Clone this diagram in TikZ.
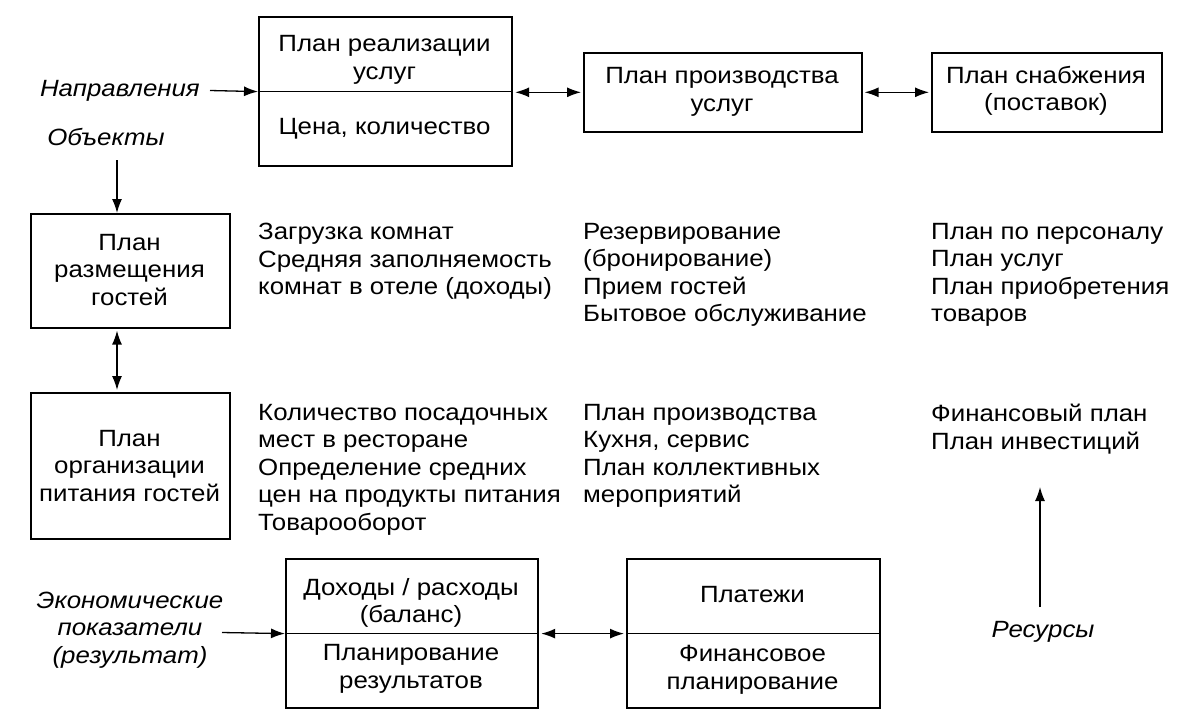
\documentclass[tikz,border=0pt]{standalone}
\usepackage{fontspec}
\setmainfont{Liberation Sans}[FakeStretch=1.1]
\usetikzlibrary{arrows.meta,calc}
\newcommand\fsz{\fontsize{23.5}{27.5}\selectfont}
\begin{document}
\begin{tikzpicture}[x=1pt,y=-1pt,
  thickbox/.style={draw, line width=2.2pt, anchor=north west, inner sep=0pt},
  thinbox/.style={draw, line width=1.6pt, anchor=north west, inner sep=0pt},
  divider/.style={line width=1.7pt},
  intext/.style={align=center, inner sep=0pt, font=\fsz},
  coltext/.style={align=left, anchor=north west, inner sep=0pt, font=\fsz},
  lbl/.style={align=center, inner sep=0pt, font=\fsz\itshape},
  arr/.style={-{Latex[length=14pt,width=10pt]}, line width=1.3pt},
  arrtwo/.style={{Latex[length=14pt,width=10pt]}-{Latex[length=14pt,width=10pt]}, line width=1.3pt, shorten <=2pt, shorten >=2pt}
]
\fill[white] (0,0) rectangle (1182,724);
\useasboundingbox (0,0) rectangle (1182,724);

% top row boxes
\node[thickbox, minimum width=253pt, minimum height=149pt] (b1) at (258,16) {};
\draw[divider] (b1.west) -- (b1.east);
\node[intext] (b1t) at (384.5,60) {План реализации\\услуг};
\node[intext] (b1b) at (384.5,129) {Цена, количество};

\node[thinbox, minimum width=278pt, minimum height=79pt] (b2) at (583,52) {};
\node[intext] (b2t) at (722,92) {План производства\\услуг};

\node[thinbox, minimum width=230pt, minimum height=79pt] (b3) at (931,52) {};
\node[intext] (b3t) at (1046,91) {План снабжения\\(поставок)};

% left boxes
\node[thinbox, minimum width=199pt, minimum height=114pt] (b4) at (30,213) {};
\node[intext] (b4t) at (129.5,270) {План\\размещения\\гостей};

\node[thinbox, minimum width=199pt, minimum height=146pt] (b5) at (30,392) {};
\node[intext] (b5t) at (129.5,466) {План\\организации\\питания гостей};

% bottom boxes
\node[thickbox, minimum width=252pt, minimum height=149pt] (b6) at (285,558) {};
\draw[divider] (b6.west) -- (b6.east);
\node[intext] (b6t) at (411,603) {Доходы / расходы\\(баланс)};
\node[intext] (b6b) at (411,669) {Планирование\\результатов};

\node[thickbox, minimum width=253pt, minimum height=149pt] (b7) at (626,558) {};
\draw[divider] (b7.west) -- (b7.east);
\node[intext] (b7t) at (752.5,595) {Платежи};
\node[intext] (b7b) at (752.5,670) {Финансовое\\планирование};

% italic labels
\node[lbl, anchor=east] (napr) at (200,90.5) {Направления};
\node[lbl] (obj) at (106,137) {Объекты};
\node[lbl] (econ) at (130,630) {Экономические\\показатели\\(результат)};
\node[lbl] (res) at (1043,632) {Ресурсы};

% text columns
\node[coltext] (c1a) at (258,223) {Загрузка комнат\\Средняя заполняемость\\комнат в отеле (доходы)};
\node[coltext] (c2a) at (583,223) {Резервирование\\(бронирование)\\Прием гостей\\Бытовое обслуживание};
\node[coltext] (c3a) at (931,223) {План по персоналу\\План услуг\\План приобретения\\товаров};
\node[coltext] (c1b) at (258,404) {Количество посадочных\\мест в ресторане\\Определение средних\\цен на продукты питания\\Товарооборот};
\node[coltext] (c2b) at (583,404) {План производства\\Кухня, сервис\\План коллективных\\мероприятий};
\node[coltext] (c3b) at (931,404) {Финансовый план\\План инвестиций};

% coordinates for free ends
\coordinate (oa) at (117,160);
\coordinate (ea) at (222,632.5);
\coordinate (rb) at (1040,607);
\coordinate (rt) at (1040,487);

% connectors
\draw[arr] ([xshift=10pt]napr.east) -- (b1.west);
\draw[arrtwo] (b1.east |- b2.west) -- (b2.west);
\draw[arrtwo] (b2.east) -- (b3.west);
\draw[arr] (oa) -- (b4.north -| oa);
\draw[arrtwo] (b4.south -| oa) -- (b5.north -| oa);
\draw[arr] (ea) -- (b6.west);
\draw[arrtwo] (b6.east) -- (b7.west);
\draw[arr] (rb) -- (rt);
\end{tikzpicture}
\end{document}
